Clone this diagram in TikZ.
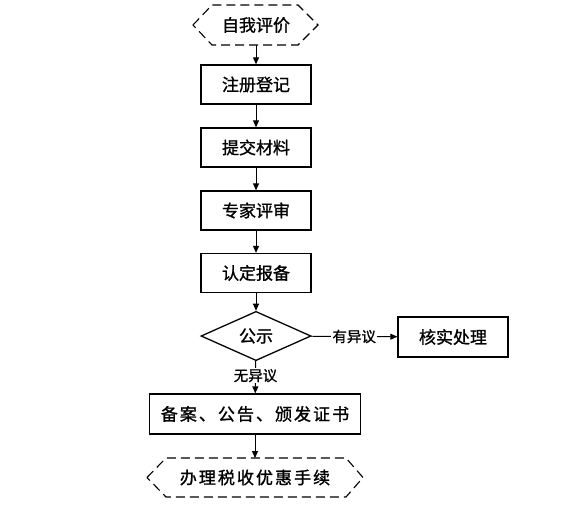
\documentclass[tikz,border=0pt]{standalone}
\usepackage{fontspec}
\newfontfamily\cjk[FakeBold=1.2]{Noto Sans CJK SC}
\newfontfamily\cjkwide[FakeBold=1.2,LetterSpace=12]{Noto Sans CJK SC}
\usetikzlibrary{shapes.geometric,arrows.meta}
\begin{document}
\begin{tikzpicture}[x=1pt,y=-1pt,
  box/.style={draw,line width=1.3pt,minimum width=110pt,minimum height=39pt,inner sep=0pt,font=\cjk\fontsize{17}{17}\selectfont},
  dia/.style={draw,diamond,line width=1.3pt,minimum width=110pt,minimum height=38pt,inner sep=0pt,font=\cjk\fontsize{17}{17}\selectfont},
  hexa/.style={draw,dash pattern=on 9pt off 5pt,line width=1.1pt},
  txt/.style={inner sep=0pt,font=\cjk\fontsize{17}{17}\selectfont},
  lbl/.style={fill=white,inner sep=1pt,font=\cjk\fontsize{14.5}{14.5}\selectfont},
  arr/.style={line width=0.9pt,-{Triangle[length=7pt,width=6pt]}}
]
\useasboundingbox (0,0) rectangle (572,515);
% top hexagon
\draw[hexa] (193,25) -- (212,5) -- (298,5) -- (318,25) -- (298,45) -- (212,45) -- cycle;
\node[txt] (h1) at (256,25) {自我评价};
\coordinate (h1b) at (256,45);
\node[box] (n1) at (256,84.5) {注册登记};
\node[box] (n2) at (256,147.5) {提交材料};
\node[box] (n3) at (256,210.5) {专家评审};
\node[box] (n4) at (256,273) {认定报备};
\node[dia] (d) at (256,336) {公示};
\node[box,minimum height=40pt] (n5) at (453,337) {核实处理};
\node[box,minimum width=211pt,minimum height=40pt,font=\cjkwide\fontsize{17}{17}\selectfont] (n6) at (255,414) {备案、公告、颁发证书};
% bottom hexagon
\draw[hexa] (147,477.5) -- (166,458) -- (346,458) -- (363,477.5) -- (346,497) -- (166,497) -- cycle;
\node[txt,font=\cjkwide\fontsize{17}{17}\selectfont] (h2) at (255,477.5) {办理税收优惠手续};
\coordinate (h2t) at (255,458);
% connectors
\draw[arr] (h1b) -- (n1);
\draw[arr] (n1) -- (n2);
\draw[arr] (n2) -- (n3);
\draw[arr] (n3) -- (n4);
\draw[arr] (n4) -- (d);
\draw[arr] (d) -- node[lbl] {有异议} (n5);
\draw[arr] (d) -- node[lbl,pos=0.45] {无异议} (n6);
\draw[arr] (n6) -- (h2t);
\end{tikzpicture}
\end{document}
